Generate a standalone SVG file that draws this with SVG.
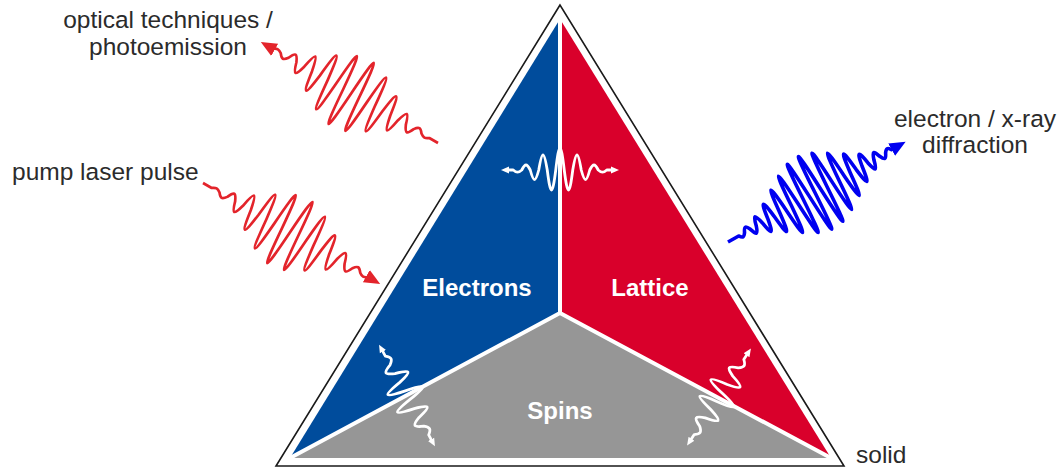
<svg xmlns="http://www.w3.org/2000/svg" xmlns:xlink="http://www.w3.org/1999/xlink" width="1063" height="468" viewBox="0 0 1063 468">
  <style>
    .lbl { font-family: "Liberation Sans", Arial, sans-serif; font-size: 24.5px; fill: #2b2b2b; }
    .node { font-family: "Liberation Sans", Arial, sans-serif; font-size: 24px; font-weight: bold; fill: #ffffff; text-anchor: middle; }
    .sep { stroke: #ffffff; stroke-width: 4; fill: none; stroke-linecap: round; }
    .redw { fill: none; stroke: #e3242b; stroke-width: 2.7; stroke-linejoin: round; }
    .bluew { fill: none; stroke: #0000f0; stroke-width: 3.6; stroke-linejoin: round; }
    .whitew { fill: none; stroke: #ffffff; stroke-width: 2.8; stroke-linejoin: round; }
  </style>
  <defs>
    <marker id="arRed" viewBox="0 -8 16 16" refX="4" refY="0" markerWidth="16" markerHeight="16" markerUnits="userSpaceOnUse" orient="auto">
      <path d="M0,-7 L16,0 L0,7 z" fill="#e3242b"/>
    </marker>
    <marker id="arBlue" viewBox="0 -8 16 16" refX="4" refY="0" markerWidth="16" markerHeight="16" markerUnits="userSpaceOnUse" orient="auto">
      <path d="M0,-7 L16,0 L0,7 z" fill="#0000f0"/>
    </marker>
    <marker id="arWhite" viewBox="0 -4 8 8" refX="2" refY="0" markerWidth="8" markerHeight="8" markerUnits="userSpaceOnUse" orient="auto-start-reverse">
      <path d="M0,-3.5 L8,0 L0,3.5 z" fill="#ffffff"/>
    </marker>
    <path id="pulseRed" d="M0,0 L10,0 C13.6,-2.72 15.4,-2.72 19,0 C22.6,4.87 24.4,4.87 28,0 C31.6,-8.19 33.4,-8.19 37,0 C40.6,12.89 42.4,12.89 46,0 C49.6,-19.01 51.4,-19.01 55,0 C58.6,26.3 60.4,26.3 64,0 C67.6,-34 69.4,-34 73,0 C76.6,41.4 78.4,41.4 82,0 C85.6,-47.1 87.4,-47.1 91,0 C94.6,50.3 96.4,50.3 100,0 C103.6,-50.3 105.4,-50.3 109,0 C112.6,47.1 114.4,47.1 118,0 C121.6,-41.4 123.4,-41.4 127,0 C130.6,34 132.4,34 136,0 C139.6,-26.3 141.4,-26.3 145,0 C148.6,19.01 150.4,19.01 154,0 C157.6,-12.89 159.4,-12.89 163,0 C166.6,8.19 168.4,8.19 172,0 C175.6,-4.87 177.4,-4.87 181,0 C184.6,2.72 186.4,2.72 190,0 L192,0" class="redw" marker-end="url(#arRed)"/>
    <path id="cornerWave" d="M-52,0 L-45,0 C-41,-5 -39,-5 -35,0 C-31,10 -29,10 -25,0 C-21,-16.2 -19,-16.2 -15,0 C-11,21.8 -9,21.8 -5,0 C-1,-24 1,-24 5,0 C9,21.8 11,21.8 15,0 C19,-16.2 21,-16.2 25,0 C29,10 31,10 35,0 C39,-5 41,-5 45,0 L52,0" class="whitew" marker-start="url(#arWhite)" marker-end="url(#arWhite)"/>
  </defs>

  <g id="solid">
    <polygon points="560,5 276,466 844,466" fill="#ffffff" stroke="#1a1a1a" stroke-width="1.6" stroke-linejoin="miter"/>
  </g>
  <g id="electrons">
    <polygon points="560,19 560,313 290,458" fill="#004c9c"/>
    <text class="node" x="477" y="296">Electrons</text>
  </g>
  <g id="lattice">
    <polygon points="560,19 560,313 831,458" fill="#d9002b"/>
    <text class="node" x="650" y="296">Lattice</text>
  </g>
  <g id="spins">
    <polygon points="560,313 290,458 831,458" fill="#969696"/>
    <text class="node" x="560" y="419">Spins</text>
  </g>
  <g id="separators">
    <line class="sep" x1="560" y1="19" x2="560" y2="313"/>
    <line class="sep" x1="560" y1="313" x2="290" y2="458"/>
    <line class="sep" x1="560" y1="313" x2="831" y2="458"/>
  </g>

  <g id="connectors">
    <use xlink:href="#pulseRed" href="#pulseRed" transform="translate(203,183) rotate(29.7)"/>
    <use xlink:href="#pulseRed" href="#pulseRed" transform="translate(438,143) rotate(209.7)"/>
    <path class="bluew" marker-end="url(#arBlue)" transform="translate(728,242) rotate(-29.46)" d="M0,0 L12.25,0 C14.95,3.83 16.3,3.83 19,0 C21.7,-5.74 23.05,-5.74 25.75,0 C28.45,8.32 29.8,8.32 32.5,0 C35.2,-11.7 36.55,-11.7 39.25,0 C41.95,15.8 43.3,15.8 46,0 C48.7,-20.7 50.05,-20.7 52.75,0 C55.45,26.2 56.8,26.2 59.5,0 C62.2,-32 63.55,-32 66.25,0 C68.95,37.9 70.3,37.9 73,0 C75.7,-43.4 77.05,-43.4 79.75,0 C82.45,48 83.8,48 86.5,0 C89.2,-51.3 90.55,-51.3 93.25,0 C95.95,53.1 97.3,53.1 100,0 C102.7,-53.1 104.05,-53.1 106.75,0 C109.45,51.3 110.8,51.3 113.5,0 C116.2,-48 117.55,-48 120.25,0 C122.95,43.4 124.3,43.4 127,0 C129.7,-37.9 131.05,-37.9 133.75,0 C136.45,32 137.8,32 140.5,0 C143.2,-26.2 144.55,-26.2 147.25,0 C149.95,20.7 151.3,20.7 154,0 C156.7,-15.8 158.05,-15.8 160.75,0 C163.45,11.7 164.8,11.7 167.5,0 C170.2,-8.32 171.55,-8.32 174.25,0 C176.95,5.74 178.3,5.74 181,0 C183.7,-3.83 185.05,-3.83 187.75,0 L192,0"/>
    <path class="whitew" marker-start="url(#arWhite)" marker-end="url(#arWhite)" d="M507,170 L513.25,170 C516.65,172.9 518.35,172.9 521.75,170 C525.15,163.3 526.85,163.3 530.25,170 C533.65,182.8 535.35,182.8 538.75,170 C542.15,149.7 543.85,149.7 547.25,170 C550.65,196.8 552.35,196.8 555.75,170 C559.15,140.7 560.85,140.7 564.25,170 C567.65,196.8 569.35,196.8 572.75,170 C576.15,149.7 577.85,149.7 581.25,170 C584.65,182.8 586.35,182.8 589.75,170 C593.15,163.3 594.85,163.3 598.25,170 C601.65,172.9 603.35,172.9 606.75,170 L613,170"/>
    <use xlink:href="#cornerWave" href="#cornerWave" transform="translate(407,395.5) rotate(61.2)"/>
    <use xlink:href="#cornerWave" href="#cornerWave" transform="translate(719,397) rotate(123.4)"/>
  </g>

  <g id="labels">
    <text class="lbl" x="168" y="28" text-anchor="middle">optical techniques /</text>
    <text class="lbl" x="168" y="55" text-anchor="middle">photoemission</text>
    <text class="lbl" x="12" y="180">pump laser pulse</text>
    <text class="lbl" x="975" y="127" text-anchor="middle">electron / x-ray</text>
    <text class="lbl" x="975" y="153" text-anchor="middle">diffraction</text>
    <text class="lbl" x="856" y="463">solid</text>
  </g>
</svg>
